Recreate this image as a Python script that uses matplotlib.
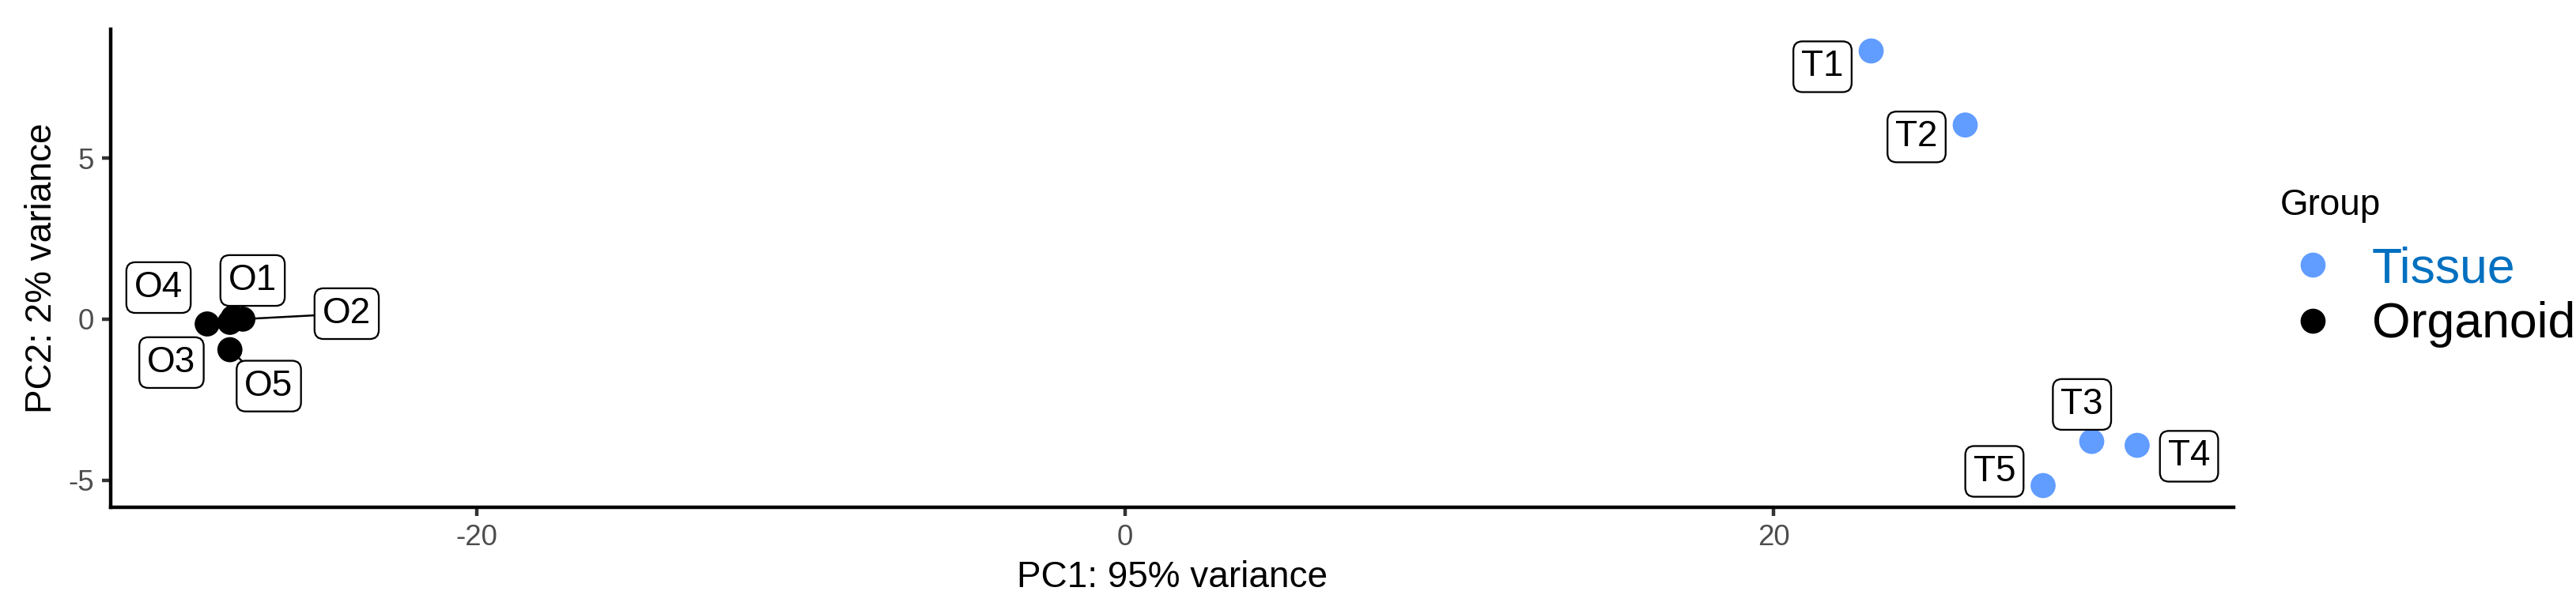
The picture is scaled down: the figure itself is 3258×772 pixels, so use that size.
import numpy as np
import matplotlib
matplotlib.use("Agg")
import matplotlib.pyplot as plt
from matplotlib.lines import Line2D

plt.rcParams["font.family"] = ["Liberation Sans", "DejaVu Sans"]
plt.rcParams["axes.unicode_minus"] = False

# PCA scores
samples = ["T1", "T2", "T3", "T4", "T5", "O1", "O2", "O3", "O4", "O5"]
group = ["Tissue"] * 5 + ["Organoid"] * 5
pc1 = [23.0, 25.9, 29.8, 31.2, 28.3, -27.5, -27.2, -27.6, -28.3, -27.6]
pc2 = [8.33, 6.03, -3.80, -3.92, -5.17, 0.05, 0.0, -0.10, -0.15, -0.95]
# repelled label centres
lab_x = [21.5, 24.4, 29.5, 32.8, 26.8, -26.9, -24.0, -29.4, -29.8, -26.4]
lab_y = [7.84, 5.66, -2.65, -4.26, -4.73, 1.20, 0.17, -1.35, 0.98, -2.08]
has_segment = [False, False, False, False, False, False, True, False, False, True]

groups = ["Tissue", "Organoid"]
colors = {"Tissue": "#619CFF", "Organoid": "black"}
legend_text_colors = {"Tissue": "#0070C0", "Organoid": "black"}

W, H = 3258, 772
fig = plt.figure(figsize=(W / 300, H / 300), dpi=300)
ax = fig.add_axes([140 / W, (H - 642) / H, (2825 - 140) / W, (642 - 37) / H])

x = np.array(pc1); y = np.array(pc2)
for i, s in enumerate(samples):
    if has_segment[i]:
        ax.plot([x[i], lab_x[i]], [y[i], lab_y[i]], color="black", lw=0.6, zorder=2)
for g in groups:
    m = np.array(group) == g
    ax.scatter(x[m], y[m], s=58, color=colors[g], edgecolors="none", zorder=3, label=g)
for i, s in enumerate(samples):
    ax.text(lab_x[i], lab_y[i], s, fontsize=11, ha="center", va="center", zorder=4,
            bbox=dict(boxstyle="round,pad=0.22,rounding_size=0.25", fc="white",
                      ec="black", lw=0.55))

# ggplot-like 5% expansion
xr = x.max() - x.min(); yr = y.max() - y.min()
ax.set_xlim(x.min() - 0.05 * xr, x.max() + 0.05 * xr)
ax.set_ylim(y.min() - 0.05 * yr, y.max() + 0.05 * yr)
ax.set_xticks([-20, 0, 20]); ax.set_yticks([-5, 0, 5])

for side in ["top", "right"]:
    ax.spines[side].set_visible(False)
for side in ["left", "bottom"]:
    ax.spines[side].set_linewidth(1.07)
    ax.spines[side].set_color("black")
ax.tick_params(length=2.75, width=1.07, color="#333333", labelsize=8.8,
               labelcolor="#4D4D4D", pad=2.2)
ax.set_xlabel("PC1: 95% variance", fontsize=11, labelpad=2.75)
ax.set_ylabel("PC2: 2% variance", fontsize=11, labelpad=2.75)

handles = [Line2D([], [], ls="none", marker="o", ms=7.6, color=colors[g], mec="none")
           for g in groups]
leg = fig.legend(handles, groups, title="Group", loc="upper left",
                 bbox_to_anchor=(2884 / W, 1 - 238 / H), frameon=False,
                 fontsize=15, title_fontsize=11, alignment="left",
                 handletextpad=0.55, labelspacing=0.18, handlelength=1.3,
                 borderaxespad=0, borderpad=0)
leg._legend_box.sep = 7.0  # extra gap under the title, as in ggplot
for t, g in zip(leg.get_texts(), groups):
    t.set_color(legend_text_colors[g])

fig.savefig("out.png", dpi=300)
